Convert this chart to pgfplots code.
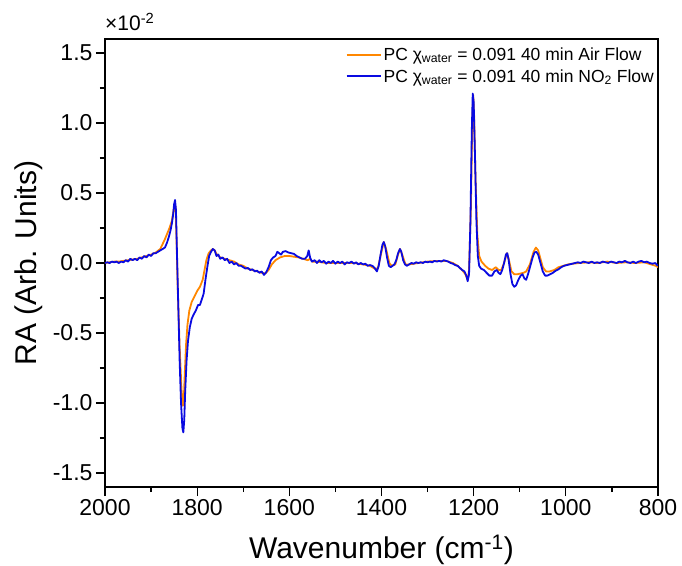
\documentclass[border=0pt]{standalone}
\usepackage{fontspec}
\setmainfont{Liberation Sans}
\usepackage{pgfplots}
\pgfplotsset{compat=1.18}
\definecolor{myorange}{RGB}{255,135,0}
\definecolor{myblue}{RGB}{10,10,225}
\begin{document}
\begin{tikzpicture}
\begin{axis}[
  scale only axis, width=553pt, height=448pt,
  x dir=reverse, xmin=800, xmax=2000, ymin=-1.6, ymax=1.6,
  xtick={800,1000,...,2000}, minor x tick num=1,
  ytick={-1.5,-1,-0.5,0,0.5,1,1.5}, minor y tick num=1,
  tick pos=left, tick align=outside,
  major tick length=9pt, minor tick length=5pt,
  axis line style={line width=1.3pt},
  every tick/.style={line width=1.3pt, black},
  /pgf/number format/assume math mode=true,
  ticklabel style={font=\fontsize{23}{27}\selectfont},
  yticklabel={\pgfmathprintnumber[fixed,fixed zerofill,precision=1,assume math mode=true]{\tick}},
  xticklabel={\pgfmathprintnumber[fixed,precision=0,set thousands separator={},assume math mode=true]{\tick}},
  xlabel={Wavenumber (cm\textsuperscript{-1})},
  ylabel={RA (Arb. Units)},
  every axis x label/.style={at={(axis description cs:0.5,-0.14)}, anchor=center, font=\fontsize{30}{34}\selectfont},
  every axis y label/.style={at={(axis description cs:-0.137,0.5)}, anchor=center, rotate=90, font=\fontsize{30}{34}\selectfont},
  legend style={at={(1,1)}, anchor=north east, draw=none, fill=none,
    font=\fontsize{17.5}{21}\selectfont, inner sep=1pt, row sep=3.5pt,
    xshift=-1pt, yshift=-5.5pt},
  legend cell align=left,
  legend image code/.code={\draw[#1, line width=2pt] (0pt,0pt) -- (34pt,0pt);},
  every axis plot/.append style={line width=1.8pt, line join=round},
]
\addplot[myorange] coordinates {
(2000,0.00)(1990,0.005)(1980,0.01)(1970,0.01)(1960,0.015)(1950,0.02)(1940,0.025)(1930,0.03)(1920,0.04)(1910,0.05)(1900,0.06)(1890,0.075)(1880,0.10)(1870,0.17)(1865,0.21)(1860,0.25)(1855,0.30)(1852,0.36)(1849,0.42)(1847,0.40)(1845,0.20)(1842,-0.20)(1838,-0.60)(1834,-0.90)(1831,-1.02)(1829,-0.98)(1827,-0.80)(1824,-0.58)(1821,-0.44)(1817,-0.34)(1812,-0.28)(1806,-0.24)(1800,-0.20)(1794,-0.17)(1788,-0.12)(1784,-0.05)(1780,0.02)(1775,0.07)(1770,0.09)(1766,0.10)(1762,0.09)(1757,0.06)(1750,0.04)(1740,0.03)(1730,0.02)(1720,0.01)(1710,-0.01)(1700,-0.02)(1690,-0.04)(1680,-0.05)(1670,-0.06)(1660,-0.07)(1652,-0.075)(1645,-0.05)(1638,-0.01)(1630,0.02)(1620,0.04)(1610,0.05)(1600,0.05)(1590,0.045)(1580,0.04)(1570,0.03)(1560,0.02)(1555,0.03)(1550,0.01)(1540,0.01)(1520,0.0)(1500,0.0)(1480,0.0)(1460,0.0)(1440,-0.01)(1425,-0.02)(1415,-0.04)(1408,-0.04)(1400,0.08)(1395,0.15)(1390,0.10)(1383,0.0)(1378,-0.02)(1370,-0.01)(1365,0.05)(1360,0.10)(1355,0.06)(1348,-0.01)(1340,-0.01)(1320,0.0)(1300,0.01)(1280,0.015)(1260,0.015)(1245,0.0)(1235,-0.02)(1225,-0.05)(1218,-0.08)(1213,-0.12)(1210,-0.05)(1206,0.40)(1203,1.00)(1201,1.20)(1199,1.05)(1196,0.60)(1192,0.20)(1188,0.05)(1183,0.01)(1175,-0.02)(1168,-0.04)(1160,-0.05)(1152,-0.03)(1146,-0.05)(1140,-0.05)(1134,0.0)(1128,0.07)(1124,0.03)(1118,-0.06)(1112,-0.08)(1105,-0.08)(1098,-0.075)(1092,-0.07)(1086,-0.06)(1078,-0.01)(1070,0.08)(1065,0.11)(1060,0.09)(1055,0.03)(1050,-0.03)(1043,-0.06)(1035,-0.06)(1025,-0.05)(1016,-0.03)(1005,-0.02)(995,-0.01)(985,-0.005)(970,0.0)(950,0.005)(930,0.0)(910,0.01)(890,0.0)(870,0.005)(850,0.0)(830,0.005)(815,-0.01)(805,-0.02)(800,-0.03)
};
\addlegendentry{PC χ\textsubscript{water} = 0.091 40 min Air Flow}
\addplot[myblue] coordinates {
(2000,0.00)(1995,0.005)(1990,0.0)(1985,0.01)(1980,0.005)(1975,0.01)(1970,0.0)(1965,0.01)(1960,0.005)(1955,0.02)(1950,0.01)(1945,0.03)(1940,0.02)(1935,0.03)(1930,0.02)(1925,0.04)(1920,0.03)(1915,0.05)(1910,0.04)(1905,0.06)(1900,0.05)(1895,0.07)(1890,0.07)(1885,0.08)(1880,0.09)(1875,0.10)(1870,0.11)(1866,0.14)(1862,0.18)(1858,0.23)(1855,0.28)(1852,0.35)(1850,0.42)(1848,0.45)(1846,0.38)(1844,0.10)(1841,-0.30)(1838,-0.70)(1835,-1.00)(1832,-1.18)(1830,-1.21)(1828,-1.12)(1826,-0.92)(1823,-0.70)(1820,-0.56)(1816,-0.46)(1812,-0.40)(1808,-0.37)(1803,-0.34)(1798,-0.30)(1794,-0.30)(1790,-0.26)(1786,-0.22)(1782,-0.12)(1778,-0.03)(1774,0.05)(1770,0.08)(1766,0.10)(1762,0.09)(1758,0.05)(1754,0.06)(1750,0.03)(1745,0.04)(1740,0.02)(1735,0.03)(1730,0.0)(1725,0.01)(1720,-0.01)(1715,0.0)(1710,-0.02)(1705,-0.02)(1700,-0.03)(1695,-0.04)(1690,-0.035)(1685,-0.05)(1680,-0.045)(1675,-0.06)(1670,-0.055)(1665,-0.07)(1660,-0.06)(1655,-0.085)(1650,-0.065)(1645,-0.03)(1640,0.02)(1635,0.04)(1630,0.05)(1626,0.08)(1622,0.07)(1618,0.06)(1614,0.08)(1608,0.085)(1602,0.075)(1596,0.07)(1590,0.065)(1584,0.05)(1578,0.04)(1572,0.03)(1566,0.03)(1561,0.05)(1558,0.09)(1555,0.04)(1551,0.01)(1545,0.02)(1540,0.0)(1535,0.02)(1530,0.005)(1525,0.015)(1520,-0.005)(1515,0.01)(1510,0.0)(1505,0.015)(1500,-0.005)(1495,0.01)(1490,0.0)(1485,0.01)(1480,-0.01)(1475,0.005)(1470,0.0)(1465,0.01)(1460,-0.005)(1455,0.005)(1450,-0.01)(1445,0.0)(1440,-0.01)(1435,-0.005)(1430,-0.02)(1425,-0.015)(1420,-0.02)(1415,-0.035)(1410,-0.06)(1406,-0.02)(1402,0.06)(1398,0.13)(1395,0.15)(1392,0.12)(1388,0.04)(1384,-0.02)(1380,-0.03)(1376,-0.02)(1372,-0.01)(1368,0.02)(1364,0.07)(1360,0.10)(1357,0.08)(1353,0.02)(1349,-0.01)(1345,-0.02)(1340,-0.01)(1335,0.0)(1330,-0.005)(1325,0.005)(1320,0.0)(1315,0.005)(1310,0.0)(1305,0.01)(1300,0.005)(1295,0.01)(1290,0.005)(1285,0.015)(1280,0.01)(1275,0.015)(1270,0.01)(1265,0.02)(1260,0.015)(1255,0.01)(1250,0.0)(1245,-0.005)(1240,-0.015)(1235,-0.02)(1230,-0.035)(1225,-0.05)(1220,-0.06)(1216,-0.09)(1213,-0.13)(1210,-0.08)(1207,0.30)(1204,0.95)(1202,1.21)(1200,1.15)(1197,0.75)(1194,0.30)(1191,0.05)(1188,-0.02)(1184,-0.04)(1178,-0.05)(1172,-0.07)(1166,-0.09)(1160,-0.09)(1155,-0.06)(1150,-0.05)(1146,-0.07)(1142,-0.08)(1138,-0.05)(1134,0.0)(1130,0.06)(1127,0.07)(1124,0.02)(1120,-0.08)(1116,-0.15)(1112,-0.17)(1108,-0.16)(1103,-0.12)(1098,-0.09)(1094,-0.08)(1090,-0.11)(1086,-0.12)(1082,-0.08)(1077,-0.02)(1072,0.04)(1068,0.075)(1064,0.08)(1060,0.06)(1055,0.0)(1050,-0.06)(1045,-0.09)(1040,-0.09)(1034,-0.08)(1028,-0.07)(1022,-0.055)(1016,-0.045)(1010,-0.03)(1004,-0.02)(998,-0.015)(992,-0.01)(986,-0.005)(980,0.0)(974,0.005)(968,0.0)(962,0.01)(956,0.005)(950,0.0)(944,0.01)(938,0.0)(932,0.005)(926,0.0)(920,0.01)(914,0.005)(908,0.0)(902,0.01)(896,0.005)(890,0.0)(884,0.01)(878,0.005)(872,0.015)(866,0.005)(860,0.0)(854,0.01)(848,0.0)(842,0.01)(836,0.015)(830,0.005)(824,0.01)(818,0.0)(812,-0.005)(806,0.0)(800,-0.02)
};
\addlegendentry{PC χ\textsubscript{water} = 0.091 40 min NO\textsubscript{2} Flow}
\coordinate (bl) at (axis description cs:0,0);
\coordinate (tr) at (axis description cs:1,1);
\end{axis}
\node[anchor=base west, inner sep=0pt, font=\fontsize{21}{25}\selectfont] at ([yshift=8pt]bl |- tr) {×10\textsuperscript{-2}};
\pgfresetboundingbox
\path[use as bounding box] ([xshift=-105pt,yshift=-78pt]bl) rectangle ([xshift=24pt,yshift=39pt]tr);
\end{tikzpicture}
\end{document}
